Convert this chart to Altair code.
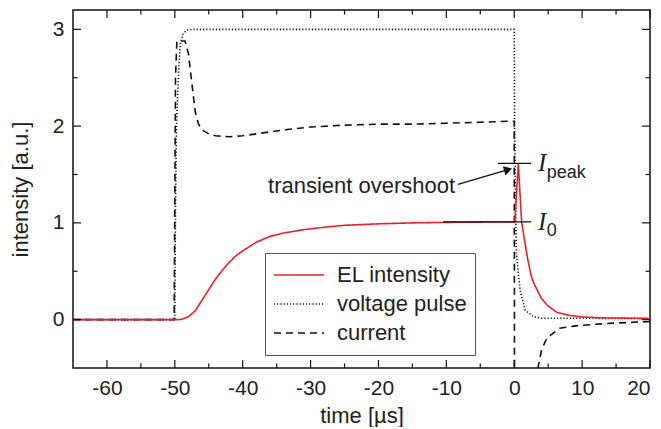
import altair as alt
import pandas as pd

# ---------------- data ----------------
series_names = ["EL intensity", "voltage pulse", "current"]

el_t = [-65, -50, -49.5, -49, -48, -47, -46, -45, -44, -43, -42, -41, -40, -38, -36, -34,
        -31, -28, -25, -20, -15, -10, -5, 0, 0.1, 0.6, 1.1, 1.5, 2.0, 2.5, 3, 4, 5, 6.3, 8,
        10, 13, 20]
el_v = [0, 0, 0, 0.003, 0.03, 0.09, 0.2, 0.31, 0.42, 0.51, 0.59, 0.66, 0.71, 0.80, 0.86,
        0.895, 0.93, 0.955, 0.975, 0.99, 1.0, 1.005, 1.008, 1.01, 1.03, 1.61, 1.0, 0.83,
        0.62, 0.45, 0.36, 0.22, 0.14, 0.075, 0.045, 0.028, 0.018, 0.012]

volt_t = [-65, -50, -49.9, -49.75, -49.6, -49.4, -49.2, -48.8, -48.3, -47.5, 0, 0.05, 0.3,
          0.85, 1.6, 2.8, 4, 20]
volt_v = [0, 0, 1.2, 2.0, 2.3, 2.6, 2.85, 2.95, 2.99, 3.0, 3.0, 2.0, 0.7, 0.31, 0.1, 0.03,
          0.015, 0.012]

cur_t = [-65, -50.1, -49.9, -49.7, -48.5, -48.0, -47.5, -47, -46.5, -46, -45, -44, -42, -40,
         -37, -34, -30, -25, -20, -15, -10, -5, -1, 0, 0.05, 3.2, 3.5, 4.0, 4.8, 6.7, 9, 11.6,
         15, 20]
cur_v = [0, 0, 2.5, 2.88, 2.88, 2.75, 2.45, 2.15, 2.02, 1.96, 1.92, 1.90, 1.89, 1.90, 1.93,
         1.96, 1.99, 2.01, 2.02, 2.02, 2.03, 2.04, 2.05, 2.05, -1.5, -0.7, -0.5, -0.32,
         -0.19, -0.09, -0.065, -0.05, -0.035, -0.02]

x_major = [-60, -50, -40, -30, -20, -10, 0, 10, 20]
x_minor = [-55, -45, -35, -25, -15, -5, 5, 15]
y_major = [0, 1, 2, 3]
y_minor = [0.5, 1.5, 2.5]

level_names = ["peak", "0"]
level_v = [1.615, 1.01]
level_t0 = [-2.4, -10.5]
level_t1 = [2.5, 2.5]
label_t = 3.5
sub_t = 4.8

note_text = "transient overshoot"
note_t, note_v = -8.7, 1.376
arrow_t = [-8.3, -0.9]
arrow_v = [1.397, 1.549]

# ---------------- build chart ----------------
W, H = 577, 358
FONT = "Liberation Sans"
INK = "#222222"

rows = []
for name, ts, vs in [("current", cur_t, cur_v), ("voltage pulse", volt_t, volt_v),
                     ("EL intensity", el_t, el_v)]:
    for t, v in zip(ts, vs):
        rows.append({"t": t, "v": v, "series": name})
df = pd.DataFrame(rows)

xs = alt.Scale(domain=[-65, 20], nice=False, zero=False)
ys = alt.Scale(domain=[-0.5, 3.2], nice=False, zero=False)

x_axis = alt.Axis(values=x_major, ticks=False, domain=False, grid=False,
                  title="time [µs]", labelExpr="'' + datum.value",
                  labelFontSize=21, labelPadding=9, titleFontSize=22,
                  titlePadding=7, titleFontWeight="normal")
y_axis = alt.Axis(values=y_major, ticks=False, domain=False, grid=False,
                  title="intensity [a.u.]", labelFontSize=21, labelPadding=9,
                  titleFontSize=22, titlePadding=20, titleFontWeight="normal")


def X(field):
    return alt.X(field, scale=xs, axis=x_axis, title="time [µs]")


def Y(field):
    return alt.Y(field, scale=ys, axis=y_axis, title="intensity [a.u.]")


legend = alt.Legend(orient="none", legendX=192, legendY=243, title=None,
                    symbolType="stroke", symbolSize=2500, symbolStrokeWidth=1.6,
                    clipHeight=28, rowPadding=1, padding=8, labelOffset=12,
                    labelFontSize=22, labelFont=FONT, labelColor=INK,
                    strokeColor="#555555", fillColor="white", symbolOffset=0)

lines = alt.Chart(df).mark_line(clip=True, strokeWidth=1.6).encode(
    x=X("t:Q"),
    y=Y("v:Q"),
    color=alt.Color("series:N",
                    scale=alt.Scale(domain=series_names,
                                    range=["#e8212b", "#111111", "#111111"]),
                    legend=legend),
    strokeDash=alt.StrokeDash("series:N",
                              scale=alt.Scale(domain=series_names,
                                              range=[[1, 0], [1.2, 2], [7, 5]]),
                              legend=legend),
    detail="series:N",
)


def ticks(vals, side, length):
    if side in ("bottom", "top"):
        d = pd.DataFrame({"t": vals})
        if side == "bottom":
            enc = dict(y=alt.value(H), y2=alt.value(H - length))
        else:
            enc = dict(y=alt.value(0), y2=alt.value(length))
        enc["x"] = X("t:Q")
    else:
        d = pd.DataFrame({"v": vals})
        if side == "left":
            enc = dict(x=alt.value(0), x2=alt.value(length))
        else:
            enc = dict(x=alt.value(W), x2=alt.value(W - length))
        enc["y"] = Y("v:Q")
    return alt.Chart(d).mark_rule(color="#111111", strokeWidth=1.2).encode(**enc)


tick_layers = []
for side in ("bottom", "top"):
    tick_layers.append(ticks(x_major, side, 8))
    tick_layers.append(ticks(x_minor, side, 4.5))
for side in ("left", "right"):
    tick_layers.append(ticks(y_major, side, 8))
    tick_layers.append(ticks(y_minor, side, 4.5))

lev = pd.DataFrame({"t": level_t0, "t2": level_t1, "v": level_v, "name": level_names,
                    "lt": [label_t] * 2, "st": [sub_t] * 2, "I": ["I", "I"]})

level_rules = alt.Chart(lev).mark_rule(color="#111111", strokeWidth=1.3).encode(
    x=X("t:Q"), x2="t2:Q", y=Y("v:Q"))

i_text = alt.Chart(lev).mark_text(align="left", baseline="middle", font="Liberation Serif",
                                  fontStyle="italic", fontSize=25, color=INK).encode(
    x=X("lt:Q"), y=Y("v:Q"), text="I:N")

sub_text = alt.Chart(lev).mark_text(align="left", baseline="alphabetic", font=FONT,
                                    fontSize=18, dy=14.5, color=INK).encode(
    x=X("st:Q"), y=Y("v:Q"), text="name:N")

note = alt.Chart(pd.DataFrame({"t": [note_t], "v": [note_v], "label": [note_text]})).mark_text(
    align="right", baseline="middle", font=FONT, fontSize=22, color=INK).encode(
    x=X("t:Q"), y=Y("v:Q"), text="label:N")

arr = pd.DataFrame({"t": arrow_t, "v": arrow_v})
arrow_line = alt.Chart(arr).mark_line(color="#111111", strokeWidth=1.3).encode(
    x=X("t:Q"), y=Y("v:Q"))
arrow_head = alt.Chart(arr.tail(1)).mark_point(shape="triangle-right", filled=True,
                                               size=90, angle=344, color="#111111",
                                               opacity=1).encode(
    x=X("t:Q"), y=Y("v:Q"))

chart = alt.layer(lines, level_rules, arrow_line, arrow_head, note, i_text, sub_text,
                  *tick_layers).properties(
    width=W, height=H,
    autosize=alt.AutoSizeParams(type="none"),
    padding={"left": 65, "top": 2, "right": 3, "bottom": 59},
).configure(font=FONT).configure_view(stroke="#111111", strokeWidth=1.5).configure_axis(
    labelColor=INK, titleColor=INK, labelFont=FONT, titleFont=FONT)

chart.save("out.html", embed_options={"renderer": "svg", "actions": False})
